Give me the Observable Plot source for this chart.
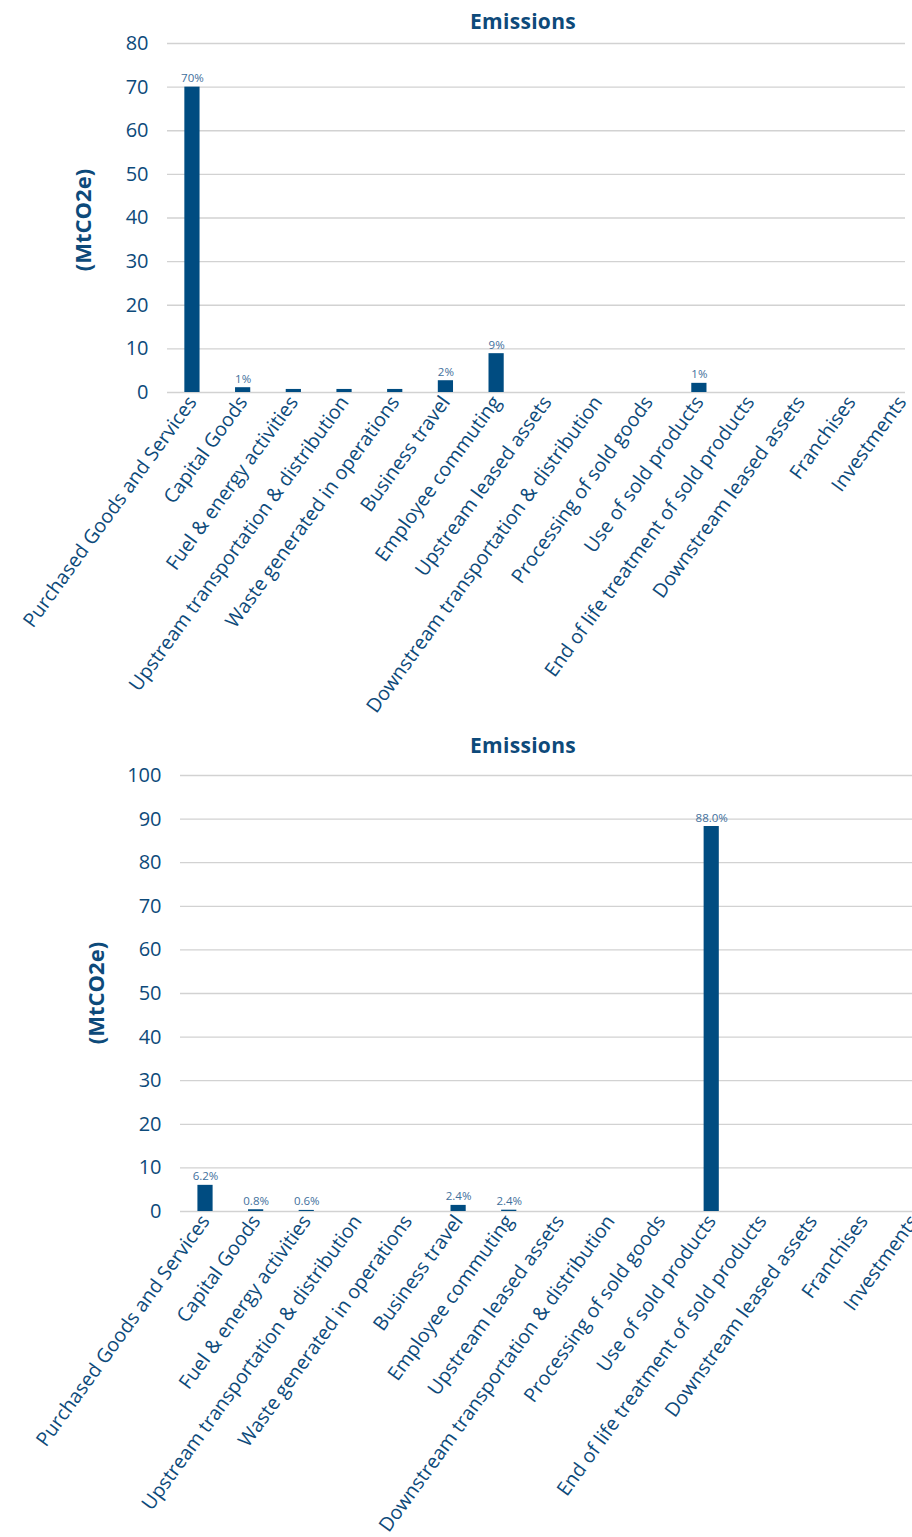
<!DOCTYPE html>
<html>
<head>
<meta charset="utf-8">
<script src="https://cdn.jsdelivr.net/npm/d3@7"></script>
<script src="https://cdn.jsdelivr.net/npm/@observablehq/plot@0.6"></script>
<style>
  body { margin: 0; background: #fff; }
  #wrap { position: relative; width: 912px; height: 1537px; overflow: hidden; font-family: "Open Sans", sans-serif; }
  .title { position: absolute; left: 0; width: 1046px; text-align: center; font-weight: 700; font-size: 21px; letter-spacing: 0.3px; color: #0d4a7a; line-height: 1; }
  .ylab { position: absolute; width: 200px; margin-left: -100px; text-align: center; font-weight: 700; font-size: 22px; color: #0d4a7a; line-height: 1; transform: translateY(-50%) rotate(-90deg); }
  .chart { position: absolute; left: 0; }
</style>
</head>
<body>
<div id="wrap">
  <div class="chart" id="c1" style="top:0px"></div>
  <div class="chart" id="c2" style="top:725px"></div>
  <div class="title" style="top:11px">Emissions</div>
  <div class="title" style="top:735px">Emissions</div>
  <div class="ylab" style="left:82px; top:220px">(MtCO2e)</div>
  <div class="ylab" style="left:95px; top:993px">(MtCO2e)</div>
</div>
<script>
const categories = [
  "Purchased Goods and Services", "Capital Goods", "Fuel & energy activities",
  "Upstream transportation & distribution", "Waste generated in operations",
  "Business travel", "Employee commuting", "Upstream leased assets",
  "Downstream transportation & distribution", "Processing of sold goods",
  "Use of sold products", "End of life treatment of sold products",
  "Downstream leased assets", "Franchises", "Investments"
];
const emissionsTop = [70, 1.1, 0.7, 0.7, 0.7, 2.7, 8.9, 0, 0, 0, 2.1, 0, 0, 0, 0];
const labelsTop = ["70%", "1%", "", "", "", "2%", "9%", "", "", "", "1%", "", "", "", ""];
const ticksTop = [0, 10, 20, 30, 40, 50, 60, 70, 80];

const emissionsBottom = [6.0, 0.4, 0.25, 0, 0, 1.4, 0.3, 0, 0, 0, 88.3, 0, 0, 0, 0];
const labelsBottom = ["6.2%", "0.8%", "0.6%", "", "", "2.4%", "2.4%", "", "", "", "88.0%", "", "", "", ""];
const ticksBottom = [0, 10, 20, 30, 40, 50, 60, 70, 80, 90, 100];

const BAR = "#004c81";
const TEXT = "#0d4a7a";
const LABEL = "#3f6f9c";
const GRID = "#d2d2d2";

function makeChart({values, labels, ticks, height, marginTop, marginBottom, marginLeft, marginRight, range}) {
  const data = categories.map((c, i) => ({cat: c, v: values[i], lab: labels[i]}));
  return Plot.plot({
    width: 912,
    height,
    marginTop, marginBottom, marginLeft, marginRight,
    style: {fontFamily: "'Open Sans', sans-serif", color: TEXT, background: "transparent", overflow: "visible"},
    x: {domain: categories, range, paddingInner: 0.7, paddingOuter: 0.35, round: false},
    y: {domain: [ticks[0], ticks[ticks.length - 1]]},
    marks: [
      Plot.ruleY(ticks, {stroke: GRID, strokeWidth: 1.3}),
      Plot.barY(data, {x: "cat", y: "v", fill: BAR}),
      Plot.text(data.filter(d => d.lab), {x: "cat", y: "v", text: "lab", lineAnchor: "bottom", dy: -5, fill: LABEL, fontSize: 11.5}),
      Plot.axisY({ticks, tickSize: 0, tickPadding: 19, fontSize: 20, label: null, tickFormat: d => String(d)}),
      Plot.axisX({tickSize: 0, tickPadding: 6, tickRotate: -54, fontSize: 19.6, label: null, style: {letterSpacing: "0.3px"}})
    ]
  });
}

document.getElementById("c1").appendChild(makeChart({
  values: emissionsTop, labels: labelsTop, ticks: ticksTop,
  height: 725, marginTop: 43, marginBottom: 333, marginLeft: 167, marginRight: 7,
  range: [166.6, 927]
}));
document.getElementById("c2").appendChild(makeChart({
  values: emissionsBottom, labels: labelsBottom, ticks: ticksBottom,
  height: 812, marginTop: 50, marginBottom: 326, marginLeft: 180, marginRight: 0,
  range: [179.7, 939]
}));
</script>
</body>
</html>
